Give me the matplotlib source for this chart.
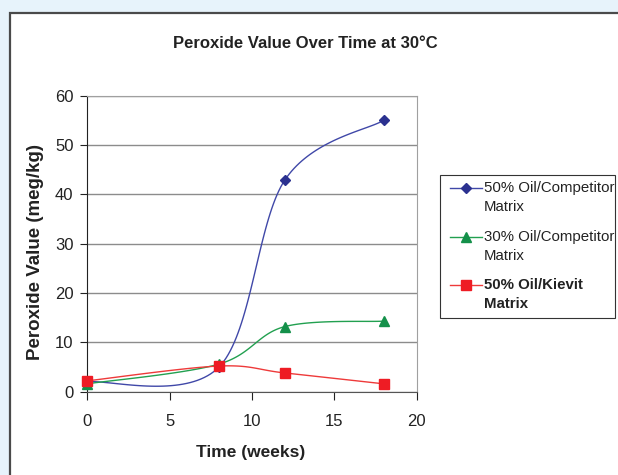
import numpy as np
import matplotlib.pyplot as plt
from matplotlib.patches import Rectangle
from matplotlib.lines import Line2D

plt.rcParams["font.family"] = ["Liberation Sans", "DejaVu Sans"]

# datos
semanas = [0, 8, 12, 18]
pv_50_competidor = [2.0, 5.0, 42.9, 55.0]
pv_30_competidor = [1.6, 5.6, 13.2, 14.3]
pv_50_kievit = [2.2, 5.2, 3.8, 1.6]

etiquetas = ["50% Oil/Competitor\nMatrix", "30% Oil/Competitor\nMatrix", "50% Oil/Kievit\nMatrix"]
colores_linea = ["#4048a8", "#22a050", "#ee3a3a"]
colores_marca = ["#2b3190", "#14904a", "#ee1c24"]
marcas = ["D", "^", "s"]
tamanos = [5, 7, 7]


def suavizado_excel(x, y, n=40):
    # curva bezier tipo "linea suavizada" de Excel
    p = np.column_stack([x, y]).astype(float)
    ext = np.vstack([p[0], p, p[-1]])
    t = np.linspace(0, 1, n)[:, None]
    trozos = []
    for i in range(len(p) - 1):
        p0, p1 = ext[i + 1], ext[i + 2]
        c1 = p0 + (ext[i + 2] - ext[i]) / 6.0
        c2 = p1 - (ext[i + 3] - ext[i + 1]) / 6.0
        b = (1 - t) ** 3 * p0 + 3 * (1 - t) ** 2 * t * c1 + 3 * (1 - t) * t ** 2 * c2 + t ** 3 * p1
        trozos.append(b)
    c = np.vstack(trozos)
    return c[:, 0], c[:, 1]


W, H = 618, 475
fig = plt.figure(figsize=(W / 100, H / 100), dpi=100, facecolor="#e7f3fb")


def fx(px):
    return px / W


def fy(py):
    return 1 - py / H


# marco blanco del grafico
fig.patches.append(Rectangle((fx(10), -0.05), 1.05, fy(13) + 0.05, transform=fig.transFigure,
                             facecolor="white", edgecolor="#4a4a4a", linewidth=1.6, zorder=-10))

ax = fig.add_axes([fx(87.3), fy(391.7), fx(416.5 - 87.3), (391.7 - 95.7) / H])
ax.set_facecolor("white")

series = [pv_50_competidor, pv_30_competidor, pv_50_kievit]
for vals, cl, cm, mk, ms in zip(series, colores_linea, colores_marca, marcas, tamanos):
    xs, ys = suavizado_excel(semanas, vals)
    ax.plot(xs, ys, color=cl, lw=1.0, zorder=3)
    ax.plot(semanas, vals, ls="none", marker=mk, color=cm, ms=ms, zorder=4, clip_on=False)

ax.set_xlim(0, 20)
ax.set_ylim(0, 60)
ax.set_xticks(range(0, 21, 5))
ax.set_yticks(range(0, 61, 10))
ax.yaxis.grid(True, color="#8c8c8c", lw=1.0)
ax.set_axisbelow(True)

for lado in ["top", "right"]:
    ax.spines[lado].set_color("#a0a0a0")
ax.spines["left"].set_color("#222222")
ax.spines["bottom"].set_color("#555555")
ax.tick_params(axis="y", direction="out", length=5, width=0.8, pad=5, labelsize=12, colors="#222222")
ax.tick_params(axis="x", direction="out", length=6, width=0.8, pad=10, labelsize=12, colors="#222222")

fig.text(fx(305), fy(43), "Peroxide Value Over Time at 30°C", ha="center", va="center",
         fontsize=12, fontweight="bold", color="#222222")
fig.text(fx(36), fy(252), "Peroxide Value (meg/kg)", ha="center", va="center", rotation=90,
         fontsize=13.5, fontweight="bold", color="#222222")
fig.text(fx(251), fy(453), "Time (weeks)", ha="center", va="center",
         fontsize=12.5, fontweight="bold", color="#222222")

# leyenda dibujada a mano (marcador alineado con la primera linea como en Excel)
fig.patches.append(Rectangle((fx(440), fy(318)), fx(615 - 440), (318 - 175) / H, transform=fig.transFigure,
                             facecolor="white", edgecolor="#333333", linewidth=0.8, zorder=5))
for k, (lab, cl, cm, mk, ms) in enumerate(zip(etiquetas, colores_linea, colores_marca, marcas, tamanos)):
    y0 = 188 + 48.5 * k
    fig.add_artist(Line2D([fx(450), fx(482)], [fy(y0), fy(y0)], color=cl, lw=1.0, zorder=6,
                          transform=fig.transFigure))
    fig.add_artist(Line2D([fx(466)], [fy(y0)], marker=mk, color=cm, ms=ms, zorder=7,
                          transform=fig.transFigure))
    primera, segunda = lab.split("\n")
    peso = "bold" if k == 2 else "normal"
    fig.text(fx(484), fy(y0), primera, ha="left", va="center", fontsize=10.8, fontweight=peso,
             color="#222222", zorder=7)
    fig.text(fx(484), fy(y0 + 19), segunda, ha="left", va="center", fontsize=10.8, fontweight=peso,
             color="#222222", zorder=7)

fig.savefig("out.png", dpi=100, facecolor=fig.get_facecolor())
